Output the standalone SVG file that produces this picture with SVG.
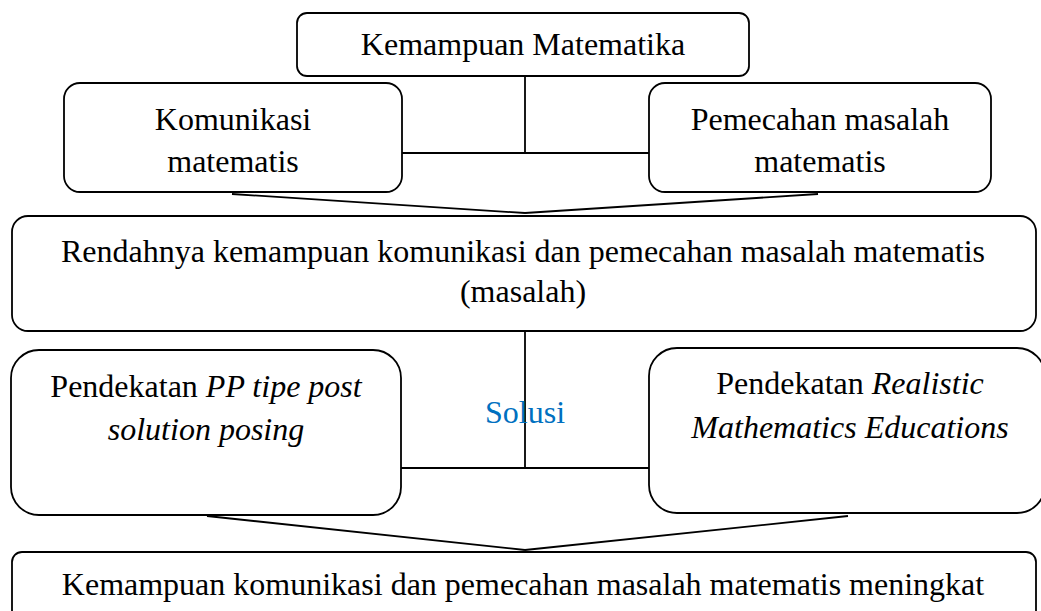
<svg xmlns="http://www.w3.org/2000/svg" width="1041" height="611" viewBox="0 0 1041 611">
<style>
.box{fill:#fff;stroke:#000;stroke-width:1.8}
.ln{stroke:#000;stroke-width:1.8;fill:none}
text{font-family:"Liberation Serif","Times New Roman",serif;font-size:32px;fill:#000;text-anchor:middle}
.it{font-style:italic}
.sol{fill:#0070C0}
</style>
<rect width="1041" height="611" fill="#fff"/>
<g id="connectors">
<line class="ln" x1="525" y1="76" x2="525" y2="153"/>
<line class="ln" x1="402" y1="153" x2="649" y2="153"/>
<line class="ln" x1="232" y1="194" x2="525" y2="213"/>
<line class="ln" x1="818" y1="194" x2="525" y2="213"/>
<line class="ln" x1="525" y1="331" x2="525" y2="468"/>
<line class="ln" x1="401" y1="468" x2="649" y2="468"/>
<line class="ln" x1="207" y1="516" x2="525" y2="550"/>
<line class="ln" x1="848" y1="516" x2="525" y2="550"/>
</g>
<g id="kemampuan-matematika">
<rect class="box" x="297" y="13" width="452" height="63" rx="10"/>
<text x="523" y="55">Kemampuan Matematika</text>
</g>
<g id="komunikasi">
<rect class="box" x="64" y="83" width="338" height="109" rx="16"/>
<text x="233" y="130">Komunikasi</text>
<text x="233" y="172">matematis</text>
</g>
<g id="pemecahan">
<rect class="box" x="649" y="83" width="342" height="109" rx="16"/>
<text x="820" y="130">Pemecahan masalah</text>
<text x="820" y="172">matematis</text>
</g>
<g id="masalah">
<rect class="box" x="12" y="216" width="1024" height="115" rx="16"/>
<text x="523" y="262">Rendahnya kemampuan komunikasi dan pemecahan masalah matematis</text>
<text x="523" y="302">(masalah)</text>
</g>
<g id="solusi">
<text class="sol" x="525" y="423">Solusi</text>
</g>
<g id="pp-post-solution">
<rect class="box" x="11" y="350" width="390" height="165" rx="28"/>
<text x="206" y="397">Pendekatan <tspan class="it">PP tipe post</tspan></text>
<text class="it" x="206" y="440">solution posing</text>
</g>
<g id="rme">
<rect class="box" x="649" y="348" width="396" height="165" rx="28"/>
<text x="850" y="394">Pendekatan <tspan class="it">Realistic</tspan></text>
<text class="it" x="850" y="438">Mathematics Educations</text>
</g>
<g id="meningkat">
<rect class="box" x="12" y="552" width="1024" height="80" rx="10"/>
<text x="523" y="595">Kemampuan komunikasi dan pemecahan masalah matematis meningkat</text>
</g>
</svg>
